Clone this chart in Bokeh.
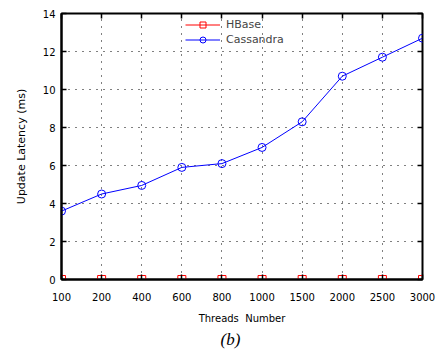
from bokeh.plotting import figure
from bokeh.models import Range1d, FixedTicker, LinearAxis, Legend, LegendItem, Title
from bokeh.embed import file_html
from bokeh.resources import INLINE

threads = ["100", "200", "400", "600", "800", "1000", "1500", "2000", "2500", "3000"]
hbase = [0, 0, 0, 0, 0, 0, 0, 0, 0, 0]
cassandra = [3.6, 4.5, 4.95, 5.9, 6.1, 6.95, 8.3, 10.7, 11.7, 12.7]
y_ticks = [0, 2, 4, 6, 8, 10, 12, 14]

xi = list(range(len(threads)))

FONT = "DejaVu Sans"

p = figure(width=436, height=354, output_backend="svg", toolbar_location=None,
           x_range=Range1d(0, len(threads) - 1), y_range=Range1d(0, 14),
           min_border_left=61, min_border_right=14, min_border_top=13, min_border_bottom=75)

p.outline_line_color = "black"
p.outline_line_width = 2

for ax in (p.xaxis[0], p.yaxis[0]):
    ax.axis_line_width = 2
    ax.axis_line_color = "black"
    ax.major_tick_in = 5
    ax.major_tick_out = 0
    ax.major_tick_line_width = 1.5
    ax.minor_tick_line_color = None
    ax.major_label_text_font = FONT
    ax.major_label_text_font_size = "10px"
    ax.major_label_text_color = "black"
    ax.axis_label_text_font = FONT
    ax.axis_label_text_font_style = "normal"
    ax.axis_label_text_color = "black"

p.xaxis[0].ticker = FixedTicker(ticks=xi)
p.xaxis[0].major_label_overrides = {i: t for i, t in zip(xi, threads)}
p.xaxis[0].axis_label = "Threads\u00a0\u00a0Number"
p.xaxis[0].axis_label_text_font_size = "10px"
p.xaxis[0].major_label_standoff = 13
p.xaxis[0].axis_label_standoff = 9

p.yaxis[0].ticker = FixedTicker(ticks=y_ticks)
p.yaxis[0].axis_label = "Update Latency (ms)"
p.yaxis[0].axis_label_text_font_size = "11px"
p.yaxis[0].major_label_standoff = 6
p.yaxis[0].axis_label_standoff = 12

top = LinearAxis(ticker=FixedTicker(ticks=xi), major_label_text_font_size="6px",
                 major_label_text_color=None, major_label_standoff=0,
                 axis_line_color=None, major_tick_in=5, major_tick_out=0,
                 major_tick_line_width=1.5, minor_tick_line_color=None)
right = LinearAxis(ticker=FixedTicker(ticks=y_ticks), major_label_text_font_size="6px",
                   major_label_text_color=None, major_label_standoff=0,
                   axis_line_color=None, major_tick_in=5, major_tick_out=0,
                   major_tick_line_width=1.5, minor_tick_line_color=None)
p.add_layout(top, "above")
p.add_layout(right, "right")

p.xgrid.ticker = FixedTicker(ticks=xi)
p.ygrid.ticker = FixedTicker(ticks=y_ticks)
for g in (p.xgrid[0], p.ygrid[0]):
    g.grid_line_color = "black"
    g.grid_line_dash = "1 6"
    g.grid_line_width = 1

l1 = p.line(xi, hbase, line_color="#ff0000", line_width=1)
s1 = p.scatter(xi, hbase, marker="square", size=8, line_color="#ff0000", fill_color=None, line_width=1)
l2 = p.line(xi, cassandra, line_color="#0000ff", line_width=1)
s2 = p.scatter(xi, cassandra, marker="circle", size=8, line_color="#0000ff", fill_color=None, line_width=1)

legend = Legend(items=[LegendItem(label="HBase", renderers=[l1, s1]),
                       LegendItem(label="Cassandra", renderers=[l2, s2])],
                location=(124, 232), glyph_width=35, glyph_height=15, label_height=15,
                spacing=0, padding=0, margin=0, label_standoff=6,
                label_text_font=FONT, label_text_font_size="11px",
                background_fill_alpha=0, border_line_color=None)
p.add_layout(legend)

p.add_layout(Title(text="(b)", align="left", offset=159, standoff=2, text_font="Liberation Serif",
                   text_font_style="italic", text_font_size="17px", text_color="black"), "below")

open("out.html", "w").write(file_html(p, INLINE))
